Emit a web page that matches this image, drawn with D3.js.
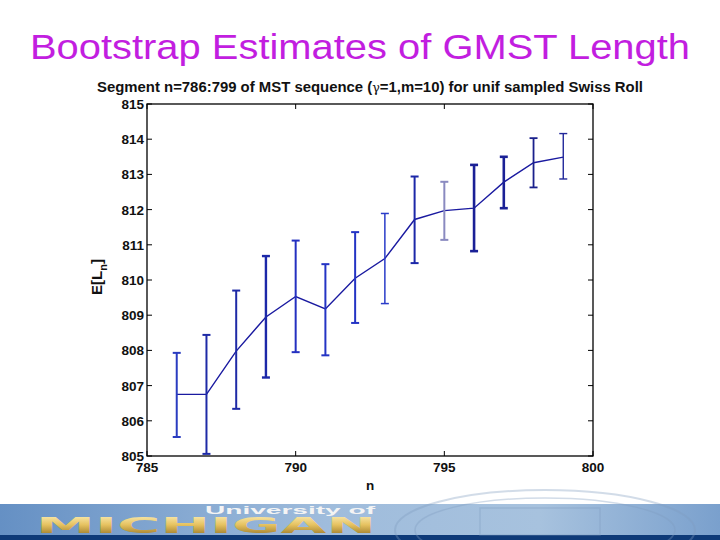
<!DOCTYPE html>
<html><head><meta charset="utf-8">
<script src="https://cdn.jsdelivr.net/npm/d3@7"></script>
<style>body{margin:0;background:#fff;} svg{display:block;font-family:"Liberation Sans",Arial,sans-serif;}</style>
</head><body>
<svg id="c" width="720" height="540"></svg>
<script>
const nValues = [786,787,788,789,790,791,792,793,794,795,796,797,798,799];
const meanL   = [806.75,806.75,807.98,808.95,809.53,809.18,810.05,810.61,811.72,811.97,812.04,812.78,813.33,813.49];
const upperL  = [807.93,808.44,809.70,810.68,811.12,810.45,811.36,811.89,812.94,812.79,813.27,813.50,814.03,814.16];
const lowerL  = [805.54,805.06,806.34,807.23,807.95,807.86,808.78,809.33,810.48,811.14,810.82,812.04,812.63,812.87];
const xTicks = [785,790,795,800];
const yTicks = [805,806,807,808,809,810,811,812,813,814,815];
const barColors = ["#2a3cc0","#1e2aa6","#1e2aa6","#1c28a8","#2430c0","#2434c4","#2434c4","#2a3cc8","#1c28a8","#8a8ac0","#1a2096","#1a2096","#1a208c","#22289a"];
const barWidths = [2,2,2,2.4,2,2,2,1.5,2,2,2.6,2.6,1.8,1.4];

const svg = d3.select("#c");
const L=147, R=593, T=104, B=456;
const x = d3.scaleLinear().domain([785,800]).range([L,R]);
const y = d3.scaleLinear().domain([805,815]).range([B,T]);

// Slide title
svg.append("text").attr("x",30).attr("y",59)
  .attr("font-size",35).attr("fill","#c21ee0")
  .attr("textLength",660).attr("lengthAdjust","spacingAndGlyphs")
  .text("Bootstrap Estimates of GMST Length");

// Chart title
svg.append("text").attr("x",97).attr("y",92)
  .attr("font-size",14).attr("font-weight","bold").attr("fill","#111")
  .attr("textLength",546).attr("lengthAdjust","spacingAndGlyphs")
  .html('Segment n=786:799 of MST sequence (<tspan font-weight="normal" font-family="DejaVu Serif" font-size="12">γ</tspan>=1,m=10) for unif sampled Swiss Roll');

// axes box
const g = svg.append("g");
g.append("rect").attr("x",L).attr("y",T).attr("width",R-L).attr("height",B-T)
  .attr("fill","none").attr("stroke","#000").attr("stroke-width",1.3);

// ticks
yTicks.forEach(v=>{
  g.append("line").attr("x1",L).attr("x2",L+5).attr("y1",y(v)).attr("y2",y(v)).attr("stroke","#000");
  g.append("line").attr("x1",R).attr("x2",R-5).attr("y1",y(v)).attr("y2",y(v)).attr("stroke","#000");
  g.append("text").attr("x",L-3).attr("y",y(v)+5).attr("text-anchor","end")
   .attr("font-size",13.5).attr("font-weight","bold").attr("fill","#111").text(v);
});
xTicks.forEach(v=>{
  g.append("line").attr("x1",x(v)).attr("x2",x(v)).attr("y1",B).attr("y2",B-5).attr("stroke","#000");
  g.append("line").attr("x1",x(v)).attr("x2",x(v)).attr("y1",T).attr("y2",T+5).attr("stroke","#000");
  g.append("text").attr("x",x(v)).attr("y",B+16).attr("text-anchor","middle")
   .attr("font-size",13.5).attr("font-weight","bold").attr("fill","#111").text(v);
});

// axis labels
svg.append("text").attr("x",370).attr("y",490).attr("text-anchor","middle")
  .attr("font-size",13.5).attr("font-weight","bold").attr("fill","#111").text("n");
svg.append("text").attr("transform","translate(102,277) rotate(-90)").attr("text-anchor","middle")
  .attr("font-size",15).attr("font-weight","bold").attr("fill","#111")
  .html('E[L<tspan font-size="11" dy="5">n</tspan><tspan dy="-5">]</tspan>');

// line
const line = d3.line().x((d,i)=>x(nValues[i])).y(d=>y(d));
svg.append("path").datum(meanL).attr("d",line).attr("fill","none")
  .attr("stroke","#1a1aa0").attr("stroke-width",1.4);

// error bars
const eb = svg.append("g");
nValues.forEach((n,i)=>{
  const c=barColors[i], w=barWidths[i], cx=x(n);
  eb.append("line").attr("x1",cx).attr("x2",cx).attr("y1",y(upperL[i])).attr("y2",y(lowerL[i])).attr("stroke",c).attr("stroke-width",w);
  [upperL[i],lowerL[i]].forEach(v=>{
    eb.append("line").attr("x1",cx-4).attr("x2",cx+4).attr("y1",y(v)).attr("y2",y(v)).attr("stroke",c).attr("stroke-width",w);
  });
});

// Banner
const defs = svg.append("defs");
const gr = defs.append("linearGradient").attr("id","bg").attr("x1",0).attr("x2",1).attr("y1",0).attr("y2",0);
gr.append("stop").attr("offset","0").attr("stop-color","#6590c4");
gr.append("stop").attr("offset","0.45").attr("stop-color","#9fbcdc");
gr.append("stop").attr("offset","0.75").attr("stop-color","#a7c2de");
gr.append("stop").attr("offset","1").attr("stop-color","#7aa0cd");
const gold = defs.append("linearGradient").attr("id","gold").attr("x1",0).attr("x2",0).attr("y1",0).attr("y2",1);
gold.append("stop").attr("offset","0").attr("stop-color","#fbeeb8");
gold.append("stop").attr("offset","0.45").attr("stop-color","#e6c260");
gold.append("stop").attr("offset","1").attr("stop-color","#8c6a1e");
svg.append("rect").attr("x",0).attr("y",504).attr("width",720).attr("height",36).attr("fill","url(#bg)");
svg.append("rect").attr("x",0).attr("y",535).attr("width",720).attr("height",5).attr("fill","#0e3a78");
// seal watermark (faint)
const seal = svg.append("g").attr("opacity",0.35).attr("stroke","#7f9cc0").attr("fill","none");
seal.append("ellipse").attr("cx",545).attr("cy",530).attr("rx",150).attr("ry",40).attr("stroke-width",2);
seal.append("ellipse").attr("cx",545).attr("cy",530).attr("rx",130).attr("ry",32).attr("stroke-width",1.5);
seal.append("rect").attr("x",480).attr("y",508).attr("width",120).attr("height",27).attr("stroke-width",1.5);
svg.append("text").attr("x",205).attr("y",514).attr("font-size",10.5).attr("font-weight","bold").attr("fill","#f4f4f4")
  .attr("textLength",170).attr("lengthAdjust","spacingAndGlyphs").text("University of");
svg.append("text").attr("x",36).attr("y",533).attr("font-size",21).attr("font-weight","bold").attr("font-family","DejaVu Sans").attr("fill","url(#gold)")
  .attr("textLength",340).attr("lengthAdjust","spacingAndGlyphs").text("MICHIGAN");
</script>
</body></html>
